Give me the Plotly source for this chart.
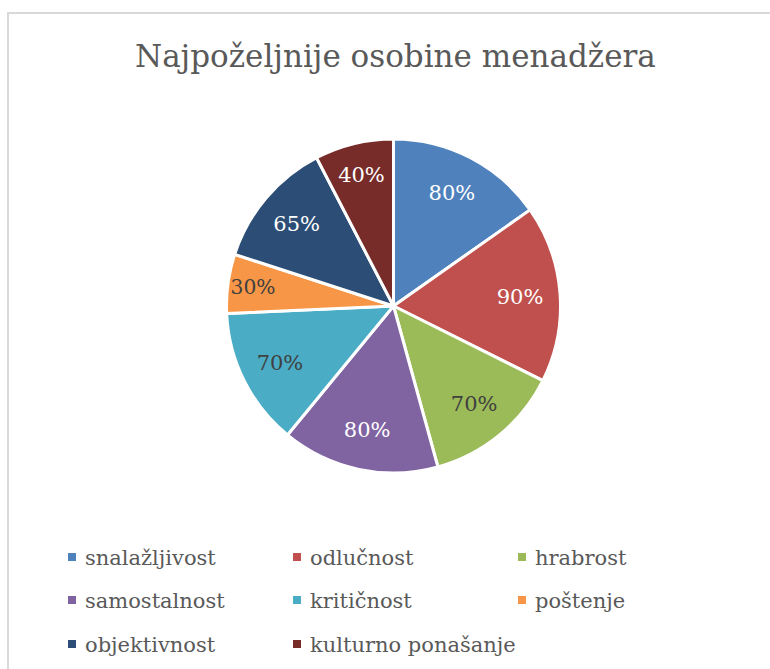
import plotly.graph_objects as go

# Survey results: share of respondents naming each trait
labels = ["snalažljivost", "odlučnost", "hrabrost", "samostalnost",
          "kritičnost", "poštenje", "objektivnost", "kulturno ponašanje"]
values = [80, 90, 70, 80, 70, 30, 65, 40]
colors = ["#4F81BD", "#C0504D", "#9BBB59", "#8064A2",
          "#4BACC6", "#F79646", "#2C4D75", "#772C2A"]
label_colors = ["white", "white", "#404040", "white",
                "#404040", "#404040", "white", "white"]

W, H = 770, 669
FONT = "DejaVu Serif"
GREY = "#595959"


def px(x):
    return x / W


def py(y):
    return 1 - y / H


# pie geometry in pixels
cx, cy, r = 393.5, 306, 167
domain = dict(x=[px(cx - r), px(cx + r)], y=[py(cy + r), py(cy - r)])

fig = go.Figure()
# coloured slices
fig.add_trace(go.Pie(
    labels=labels,
    values=values,
    sort=False,
    direction="clockwise",
    rotation=0,
    marker=dict(colors=colors, line=dict(color="white", width=3)),
    textinfo="none",
    hoverinfo="label+value",
    showlegend=False,
    domain=domain,
))
# transparent ring on top that carries the value labels in the outer band
fig.add_trace(go.Pie(
    labels=labels,
    values=values,
    sort=False,
    direction="clockwise",
    rotation=0,
    hole=0.52,
    marker=dict(colors=["rgba(0,0,0,0)"] * len(values), line=dict(width=0)),
    texttemplate="%{value}%",
    textposition="inside",
    insidetextorientation="horizontal",
    insidetextfont=dict(family=FONT, size=21, color=label_colors),
    hoverinfo="skip",
    showlegend=False,
    domain=domain,
))

shapes = [
    # chart area outline
    dict(type="rect", xref="paper", yref="paper",
         x0=px(8), x1=px(W + 20), y0=py(H + 20), y1=py(13),
         line=dict(color="#D9D9D9", width=2), fillcolor="rgba(0,0,0,0)",
         layer="below"),
]
annotations = [
    dict(text="Najpoželjnije osobine menadžera", xref="paper", yref="paper",
         x=px(395.5), y=py(56), xanchor="center", yanchor="middle",
         showarrow=False, font=dict(family=FONT, size=31, color=GREY)),
]

# legend: three columns of small squares with text
col_x = [68, 293, 518]
row_y = [557, 600, 644]
sq = 8
for i, (name, col) in enumerate(zip(labels, colors)):
    x0 = col_x[i % 3]
    yc = row_y[i // 3]
    shapes.append(dict(type="rect", xref="paper", yref="paper",
                       x0=px(x0), x1=px(x0 + sq),
                       y0=py(yc + sq / 2), y1=py(yc - sq / 2),
                       line=dict(width=0), fillcolor=col))
    annotations.append(dict(text=name, xref="paper", yref="paper",
                            x=px(x0 + 15), y=py(yc + 1), xanchor="left",
                            yanchor="middle", showarrow=False,
                            font=dict(family=FONT, size=21, color=GREY)))

fig.update_layout(
    width=W, height=H,
    margin=dict(l=0, r=0, t=0, b=0),
    paper_bgcolor="white",
    plot_bgcolor="white",
    shapes=shapes,
    annotations=annotations,
)

fig.write_html("out.html")
